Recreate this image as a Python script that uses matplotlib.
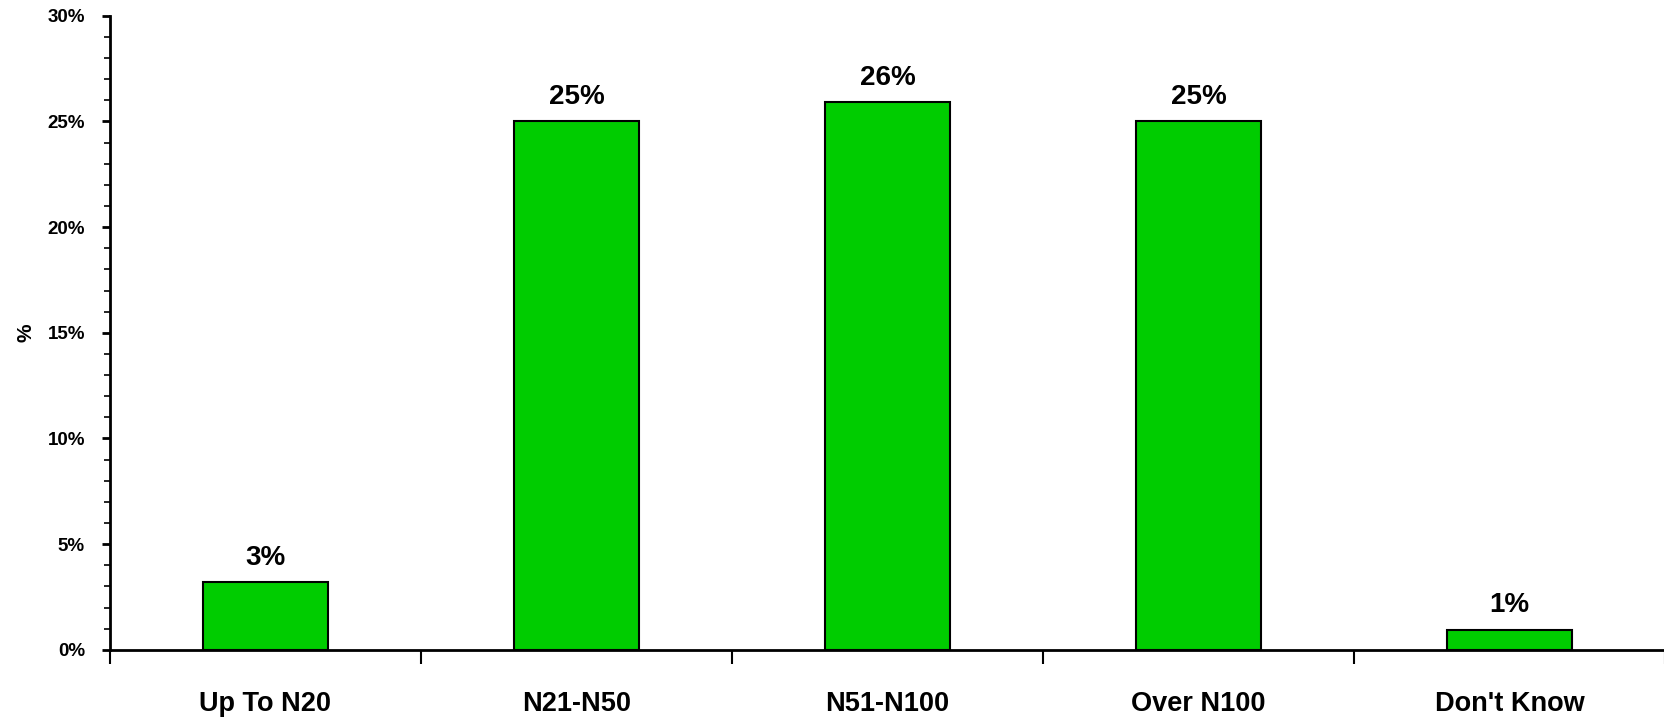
import numpy as np
import matplotlib

matplotlib.use('Agg')
import matplotlib.pyplot as plt
from matplotlib.ticker import MultipleLocator, FuncFormatter

categories = ['Up To N20', 'N21-N50', 'N51-N100', 'Over N100', "Don't Know"]
shares = [3.2, 25.0, 25.9, 25.0, 0.95]

BAR_COLOR = '#00CC00'
plt.rcParams['font.family'] = ['Liberation Sans', 'DejaVu Sans']
plt.rcParams['font.weight'] = 'bold'

fig = plt.figure(figsize=(16.65, 7.18), dpi=100)
ax = fig.add_axes([0.066, 0.095, 0.934, 0.883])

x = np.arange(len(categories))
ax.bar(x, shares, width=0.4, color=BAR_COLOR, edgecolor='black', linewidth=1.5, zorder=3)

for xi, v in zip(x, shares):
    ax.text(xi, v + 0.55, f'{v:.0f}%', ha='center', va='bottom',
            fontsize=20, fontweight='bold')

ax.set_xlim(-0.5, len(categories) - 0.5)
ax.set_ylim(0, 30)

ax.yaxis.set_major_locator(MultipleLocator(5))
ax.yaxis.set_minor_locator(MultipleLocator(1))
ax.yaxis.set_major_formatter(FuncFormatter(lambda v, _: f'{v:.0f}%'))
ax.tick_params(axis='y', which='major', length=6, width=2, labelsize=13.5, pad=12)
ax.tick_params(axis='y', which='minor', length=4, width=1.2)

# category boundary ticks, labels centered between them
ax.set_xticks(np.arange(-0.5, len(categories) - 0.4, 1.0))
ax.set_xticklabels([])
ax.set_xticks(x, minor=True)
ax.set_xticklabels(categories, minor=True, fontsize=19.5, fontweight='bold')
ax.tick_params(axis='x', which='major', length=10, width=1.5, direction='out')
ax.tick_params(axis='x', which='minor', length=0, pad=30)

ax.set_ylabel('%', fontsize=15, fontweight='bold')
ax.yaxis.set_label_coords(-0.048, 0.5)

for side in ('top', 'right'):
    ax.spines[side].set_visible(False)
for side in ('left', 'bottom'):
    ax.spines[side].set_linewidth(2)

fig.savefig('out.png', dpi=100)
